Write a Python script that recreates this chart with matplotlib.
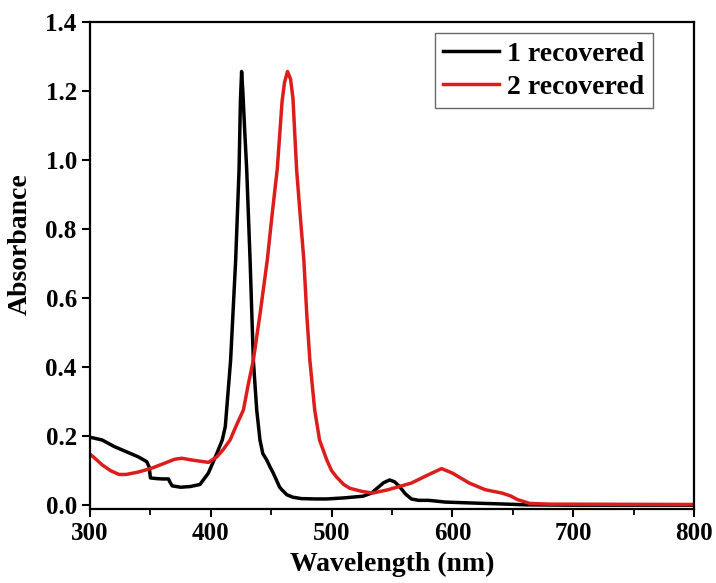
import matplotlib
matplotlib.use('Agg')
import matplotlib.pyplot as plt
from matplotlib.ticker import MultipleLocator

plt.rcParams['font.family'] = 'Liberation Serif'
plt.rcParams['font.weight'] = 'bold'

# 1 recovered
wl_1 = [300, 310, 320, 330, 340, 347, 349, 350, 355, 360, 365, 366, 368, 375,
        383, 391, 398, 405, 409.5, 412, 416.4, 420.6, 423.4, 424.5, 425.5,
        426.5, 428, 429.7, 432.5, 435.2, 438, 440.7, 443, 446.3, 449, 451.7,
        457, 459, 463, 468, 475, 487, 496, 510, 526, 533, 538, 543, 548, 552,
        556, 561, 566, 572, 580, 586, 594, 610, 627, 645, 661, 700, 800]
abs_1 = [0.197, 0.189, 0.170, 0.155, 0.140, 0.126, 0.110, 0.079, 0.077, 0.076,
         0.076, 0.068, 0.056, 0.052, 0.054, 0.060, 0.093, 0.150, 0.189, 0.228,
         0.420, 0.712, 0.974, 1.170, 1.257, 1.200, 1.090, 0.974, 0.712, 0.420,
         0.276, 0.189, 0.150, 0.131, 0.111, 0.093, 0.052, 0.044, 0.030, 0.023,
         0.019, 0.018, 0.018, 0.021, 0.026, 0.035, 0.050, 0.065, 0.073, 0.068,
         0.055, 0.033, 0.018, 0.014, 0.014, 0.012, 0.009, 0.007, 0.005, 0.003,
         0.001, 0.000, 0.000]

# 2 recovered
wl_2 = [300, 305, 310, 317, 324, 330, 340, 351, 362, 370, 376, 384, 392, 398,
        405, 410, 416, 421, 427, 431, 435.2, 441, 446.8, 451, 455, 459, 461,
        463.5, 466, 468, 471, 474, 477, 479.5, 482, 486, 490, 496, 500, 504,
        510, 515, 525, 534, 547, 566, 580, 591, 600, 614, 627, 641, 648, 654,
        664, 680, 800]
abs_2 = [0.148, 0.133, 0.117, 0.100, 0.089, 0.089, 0.096, 0.107, 0.122, 0.133,
         0.136, 0.131, 0.127, 0.124, 0.140, 0.160, 0.189, 0.230, 0.276, 0.350,
         0.420, 0.560, 0.712, 0.850, 0.974, 1.170, 1.225, 1.257, 1.235, 1.180,
         0.974, 0.840, 0.712, 0.550, 0.420, 0.276, 0.189, 0.131, 0.100, 0.082,
         0.060, 0.049, 0.040, 0.035, 0.045, 0.064, 0.088, 0.106, 0.093, 0.064,
         0.045, 0.035, 0.027, 0.016, 0.005, 0.003, 0.002]

fig = plt.figure(figsize=(7.16, 5.83), dpi=100)
ax = fig.add_axes([0.1257, 0.127, 0.8436, 0.835])

ax.plot(wl_1, abs_1, color='black', lw=2.5, label='1 recovered')
ax.plot(wl_2, abs_2, color='#dd1c1c', lw=2.5, label='2 recovered')

ax.set_xlim(300, 800)
ax.set_ylim(-0.011, 1.4)
ax.xaxis.set_major_locator(MultipleLocator(100))
ax.xaxis.set_minor_locator(MultipleLocator(50))
ax.yaxis.set_major_locator(MultipleLocator(0.2))
ax.yaxis.set_major_formatter(plt.FormatStrFormatter('%.1f'))

for s in ax.spines.values():
    s.set_linewidth(1.6)
ax.tick_params(which='major', direction='out', length=6, width=1.5,
               labelsize=18)
ax.tick_params(which='minor', direction='out', length=4, width=1.3)

ax.set_xlabel('Wavelength (nm)', fontsize=20, fontweight='bold')
ax.set_ylabel('Absorbance', fontsize=20, fontweight='bold')
ax.xaxis.set_label_coords(0.5, -0.088)
ax.yaxis.set_label_coords(-0.094, 0.544)

leg = ax.legend(loc='upper right', bbox_to_anchor=(0.932, 0.977), fontsize=20,
                frameon=True, fancybox=False, edgecolor='#444444',
                handlelength=2.0, handletextpad=0.3, borderpad=0.3,
                labelspacing=0.25, borderaxespad=0)
leg.get_frame().set_linewidth(1.0)

fig.savefig('out.png', dpi=100)
